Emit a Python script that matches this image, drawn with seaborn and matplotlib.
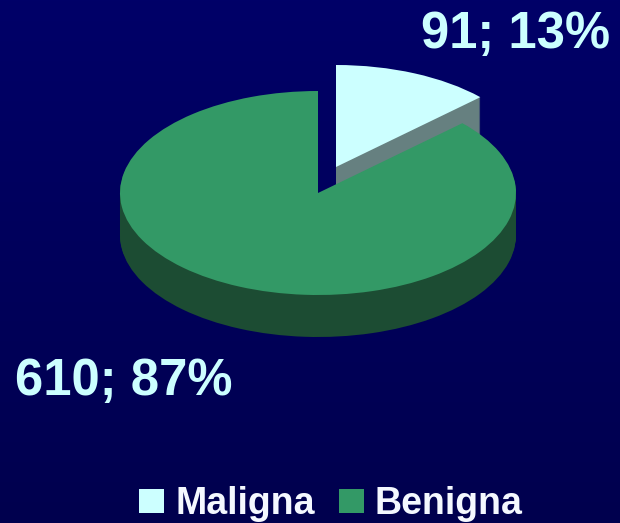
import numpy as np
import matplotlib
matplotlib.use("Agg")
import matplotlib.pyplot as plt
import seaborn as sns

categories = ["Maligna", "Benigna"]
counts = [91, 610]
percents = [13, 87]

W, H = 620, 523
RX, RY = 198, 102
DEPTH = 42

COLORS = ["#CCFFFF", "#339966"]
SIDES = ["#668080", "#1C4C33"]

sns.set_theme(style="white")
plt.rcParams["font.family"] = ["Liberation Sans", "DejaVu Sans"]


def to_data(px, py):
    return px / RX, (H - py) / RY


def draw_slice(ax, share, start, color, side, px, py):
    # side wall = the same slice stacked downward
    for d in range(DEPTH, 0, -1):
        ax.pie([share, 1 - share], startangle=start, counterclock=False,
               colors=[side, "none"], center=to_data(px, py + d), radius=1,
               frame=True, normalize=False, wedgeprops={"linewidth": 0})
    wedges, _ = ax.pie([share, 1 - share], startangle=start, counterclock=False,
                       colors=[color, "none"], center=to_data(px, py), radius=1,
                       frame=True, normalize=False, wedgeprops={"linewidth": 0})
    return wedges[0]


fig = plt.figure(figsize=(W / 100, H / 100), dpi=100)
ax = fig.add_axes([0, 0, 1, 1])

grad = np.linspace(0, 1, 256).reshape(-1, 1)
cmap = matplotlib.colors.LinearSegmentedColormap.from_list("bg", ["#000068", "#00004E"])
ax.imshow(grad, extent=(0, W / RX, 0, H / RY), cmap=cmap, aspect="auto", zorder=-5)

shares = np.array(percents) / sum(percents)
w0 = draw_slice(ax, shares[0], 90, COLORS[0], SIDES[0], 336, 167)
w1 = draw_slice(ax, shares[1], 90 - 360 * shares[0], COLORS[1], SIDES[1], 318, 193)

ax.set_xlim(0, W / RX)
ax.set_ylim(0, H / RY)
ax.set_aspect("auto")
ax.axis("off")

fig.text(610 / W, 1 - 48 / H, f"{counts[0]}; {percents[0]}%", color=COLORS[0],
         fontsize=36.5, fontweight="bold", ha="right", va="baseline")
fig.text(15 / W, 1 - 395 / H, f"{counts[1]}; {percents[1]}%", color=COLORS[0],
         fontsize=36.5, fontweight="bold", ha="left", va="baseline")

fig.legend([w0, w1], categories, ncols=2, frameon=False, loc="lower center",
           bbox_to_anchor=(331 / W, -33 / H), fontsize=27,
           labelcolor="#F4F8FF", prop={"weight": "bold", "size": 27},
           handlelength=0.667, handleheight=0.6, handletextpad=0.29, columnspacing=0.64)

fig.savefig("out.png", dpi=100)
